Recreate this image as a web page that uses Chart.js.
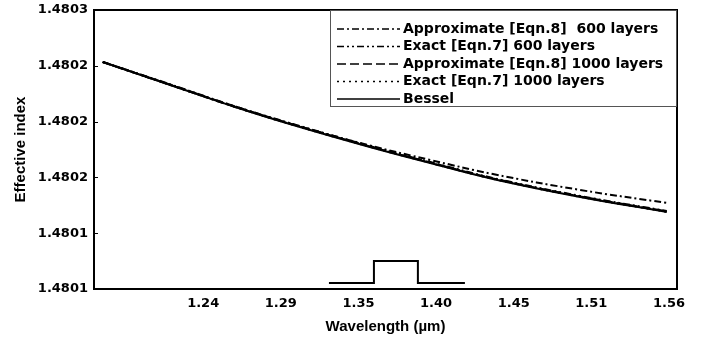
<!DOCTYPE html>
<html>
<head>
<meta charset="utf-8">
<script src="https://cdn.jsdelivr.net/npm/chart.js@4/dist/chart.umd.min.js"></script>
<style>
  body { margin: 0; background: #fff; }
  #chart { display: block; }
</style>
</head>
<body>
<canvas id="chart" width="713" height="341"></canvas>
<script>
// wavelengths (um) and effective index curves
const wavelengths = [1.171, 1.2165, 1.262, 1.3065, 1.3545, 1.396, 1.439, 1.499, 1.5585]
const approx600 = [1.4802427, 1.4802266, 1.4802105, 1.4801965, 1.4801829, 1.4801725, 1.4801624, 1.480151, 1.4801417]
const exact600 = [1.4802428, 1.480227, 1.4802109, 1.4801968, 1.4801825, 1.480171, 1.4801596, 1.4801467, 1.4801359]
const approx1000 = [1.4802427, 1.4802268, 1.4802108, 1.4801965, 1.4801822, 1.4801707, 1.4801593, 1.4801464, 1.4801356]
const exact1000 = [1.4802427, 1.4802266, 1.4802105, 1.4801962, 1.480182, 1.4801704, 1.480159, 1.4801461, 1.4801353]
const bessel = [1.4802427, 1.4802266, 1.4802105, 1.4801961, 1.4801818, 1.4801703, 1.4801589, 1.480146, 1.4801352]

// small index-profile sketch at the bottom of the plot
const profileX = [1.3264, 1.3573, 1.3573, 1.3875, 1.3875, 1.4198]
const profileY = [1.4800843, 1.4800843, 1.4801001, 1.4801001, 1.4800843, 1.4800843]

const xTicks = [1.24, 1.29333, 1.34667, 1.4, 1.45333, 1.50667, 1.56]
const yTicks = [1.48008, 1.48012, 1.48016, 1.4802, 1.48024, 1.48028]

const seriesLabels = ['Approximate [Eqn.8]  600 layers', 'Exact [Eqn.7] 600 layers', 'Approximate [Eqn.8] 1000 layers', 'Exact [Eqn.7] 1000 layers', 'Bessel']
const seriesDash = [[7, 3, 2, 3], [7, 3, 2, 3, 2, 3], [9, 4], [2, 4], []]

const toPoints = (xs, ys) => xs.map((x, i) => ({ x, y: ys[i] }))

const datasets = [approx600, exact600, approx1000, exact1000, bessel].map((values, i) => ({
  label: seriesLabels[i],
  data: toPoints(wavelengths, values),
  borderColor: '#000',
  borderWidth: 2,
  borderDash: seriesDash[i],
  pointRadius: 0,
  tension: 0.4,
  fill: false
}))
datasets.push({
  label: 'profile',
  hideInLegend: true,
  data: toPoints(profileX, profileY),
  borderColor: '#000',
  borderWidth: 2,
  pointRadius: 0,
  tension: 0,
  fill: false
})

// plot frame, inward y ticks and boxed legend
const framePlugin = {
  id: 'frame',
  afterDraw (chart) {
    const { ctx, chartArea: a, scales } = chart
    ctx.save()
    ctx.strokeStyle = '#000'
    ctx.lineWidth = 2
    ctx.strokeRect(a.left, a.top, a.right - a.left, a.bottom - a.top)
    ctx.lineWidth = 1
    yTicks.forEach(v => {
      const y = Math.round(scales.y.getPixelForValue(v)) + 0.5
      ctx.beginPath()
      ctx.moveTo(a.left, y)
      ctx.lineTo(a.left + 4, y)
      ctx.stroke()
    })

    const boxW = 347
    const boxH = 97
    const bx = a.right - boxW
    const by = a.top
    ctx.fillStyle = '#fff'
    ctx.fillRect(bx, by, boxW, boxH)
    ctx.strokeStyle = '#555'
    ctx.lineWidth = 1
    ctx.strokeRect(bx + 0.5, by + 0.5, boxW - 1, boxH - 1)
    ctx.font = 'bold 14px "DejaVu Sans"'
    ctx.textBaseline = 'middle'
    ctx.fillStyle = '#000'
    chart.data.datasets.filter(d => !d.hideInLegend).forEach((d, i) => {
      const y = by + 19 + i * 17.5
      ctx.strokeStyle = '#000'
      ctx.lineWidth = 1.5
      ctx.setLineDash(d.borderDash)
      ctx.beginPath()
      ctx.moveTo(bx + 7, y)
      ctx.lineTo(bx + 70, y)
      ctx.stroke()
      ctx.setLineDash([])
      ctx.fillText(d.label, bx + 73, y)
    })
    ctx.restore()
  }
}

const chart = new Chart(document.querySelector('#chart').getContext('2d'), {
  type: 'line',
  data: { datasets },
  options: {
    responsive: false,
    animation: false,
    layout: { padding: { top: 10, right: 36, left: 0, bottom: 0 } },
    plugins: { legend: { display: false }, tooltip: { enabled: false } },
    scales: {
      x: {
        type: 'linear',
        min: 1.165,
        max: 1.5655,
        afterBuildTicks: scale => { scale.ticks = xTicks.map(value => ({ value })) },
        afterFit: scale => { scale.height = 52 },
        grid: { display: false, drawTicks: false },
        border: { display: false },
        ticks: {
          padding: 7,
          color: '#000',
          font: { family: '"DejaVu Sans"', size: 13, weight: 'bold' },
          callback: v => v.toFixed(2)
        },
        title: {
          display: true,
          text: 'Wavelength (µm)',
          color: '#000',
          font: { family: '"Liberation Sans"', size: 15, weight: 'bold' },
          padding: { top: 0, bottom: 5 }
        }
      },
      y: {
        min: 1.48008,
        max: 1.48028,
        afterBuildTicks: scale => { scale.ticks = yTicks.map(value => ({ value })) },
        afterFit: scale => {
          scale.width = 94
          scale.paddingTop = 0
          scale.paddingBottom = 0
        },
        grid: { display: false, drawTicks: false },
        border: { display: false },
        ticks: {
          padding: 6,
          color: '#000',
          font: { family: '"DejaVu Sans"', size: 13, weight: 'bold' },
          callback: v => v.toFixed(4)
        },
        title: {
          display: true,
          text: 'Effective index',
          color: '#000',
          font: { family: '"Liberation Sans"', size: 15, weight: 'bold' },
          padding: { top: 12, bottom: 0 }
        }
      }
    }
  },
  plugins: [framePlugin]
})
</script>
</body>
</html>
